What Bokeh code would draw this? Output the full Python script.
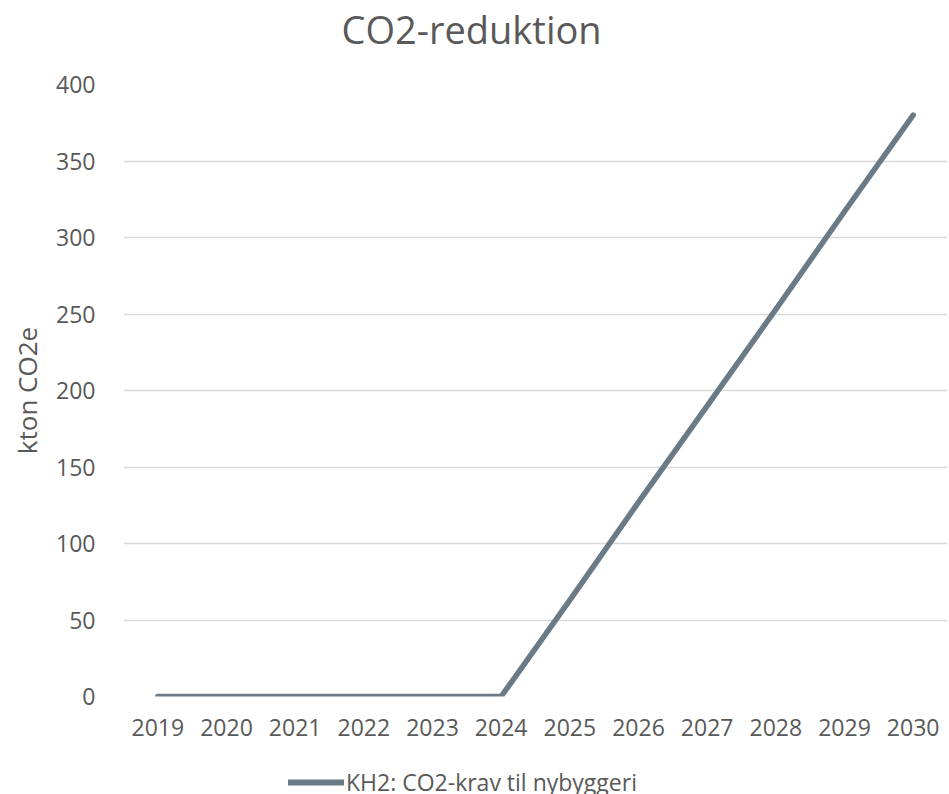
from bokeh.plotting import figure
from bokeh.layouts import column
from bokeh.models import ColumnDataSource, FixedTicker, Legend, LegendItem, Range1d
from bokeh.embed import file_html
from bokeh.resources import INLINE

# Annual CO2 reduction from the new-build CO2 requirement (kton CO2e)
years = [2019, 2020, 2021, 2022, 2023, 2024, 2025, 2026, 2027, 2028, 2029, 2030]
reduction = [0, 0, 0, 0, 0, 0, 63, 127, 190, 253, 317, 380]
series_name = "KH2: CO2-krav til nybyggeri"
chart_title = "CO2-reduktion"
y_title = "kton CO2e"
y_ticks = [0, 50, 100, 150, 200, 250, 300, 350, 400]
year_labels = [str(y) for y in years]

FONT = "Open Sans"
TEXT = "#595959"
LINE = "#6B7B86"
GRID = "#D9D9D9"
W = 949
TITLE_H = 56
LEGEND_H = 44

src = ColumnDataSource(data=dict(year=years, value=reduction))


def strip(height):
    """Empty full-width figure used to carry the title or the legend."""
    f = figure(
        width=W, height=height,
        output_backend="svg", toolbar_location=None,
        x_axis_type=None, y_axis_type=None,
        x_range=Range1d(0, 1), y_range=Range1d(0, 1),
        min_border=0, outline_line_color=None,
    )
    f.xgrid.grid_line_color = None
    f.ygrid.grid_line_color = None
    return f


# title strip
top = strip(TITLE_H)
top.title.text = chart_title
top.title.text_font = FONT
top.title.text_font_size = "38px"
top.title.text_font_style = "normal"
top.title.text_color = TEXT
top.title.align = "left"
top.title.offset = 218
top.title.standoff = 0

# main chart
p = figure(
    width=W, height=794 - TITLE_H - LEGEND_H,
    output_backend="svg", toolbar_location=None,
    x_range=Range1d(2018.5, 2030.5), y_range=Range1d(0, 400),
    min_border_left=123, min_border_right=2,
    min_border_top=84 - TITLE_H, min_border_bottom=54,
    outline_line_color=None,
)

r = p.line("year", "value", source=src, line_color=LINE, line_width=5.5,
           line_cap="round", line_join="round")

# x axis: one label per year, no axis line or ticks
p.xaxis.ticker = FixedTicker(ticks=years)
p.xaxis.major_label_overrides = {y: lbl for y, lbl in zip(years, year_labels)}
p.xaxis.axis_line_color = None
p.xaxis.major_tick_line_color = None
p.xaxis.minor_tick_line_color = None
p.xaxis.major_label_text_font = FONT
p.xaxis.major_label_text_font_size = "23px"
p.xaxis.major_label_text_color = TEXT
p.xaxis.major_label_standoff = 16

# y axis
p.yaxis.ticker = FixedTicker(ticks=y_ticks)
p.yaxis.axis_line_color = None
p.yaxis.major_tick_line_color = None
p.yaxis.minor_tick_line_color = None
p.yaxis.major_label_text_font = FONT
p.yaxis.major_label_text_font_size = "23px"
p.yaxis.major_label_text_color = TEXT
p.yaxis.major_label_standoff = 22
p.yaxis.axis_label = y_title
p.yaxis.axis_label_text_font = FONT
p.yaxis.axis_label_text_font_size = "26px"
p.yaxis.axis_label_text_font_style = "normal"
p.yaxis.axis_label_text_color = TEXT
p.yaxis.axis_label_standoff = 8

p.xgrid.grid_line_color = None
p.ygrid.grid_line_color = GRID
p.ygrid.grid_line_width = 1.5

# legend strip under the chart (its key line is hidden, only the swatch shows)
leg = strip(LEGEND_H)
key = leg.line("year", "value", source=src, line_color=LINE, line_width=6,
               line_cap="round", visible=False)

legend = Legend(
    items=[LegendItem(label=series_name, renderers=[key])],
    location=(165, -4),
    orientation="horizontal",
    border_line_color=None,
    background_fill_alpha=0,
    inactive_fill_alpha=0,
    label_text_font=FONT,
    label_text_font_size="23px",
    label_text_color=TEXT,
    glyph_width=56,
    label_standoff=2,
    padding=0, margin=0,
)
leg.add_layout(legend, "center")

layout = column(top, p, leg, spacing=0)
open("out.html", "w").write(file_html(layout, INLINE))
